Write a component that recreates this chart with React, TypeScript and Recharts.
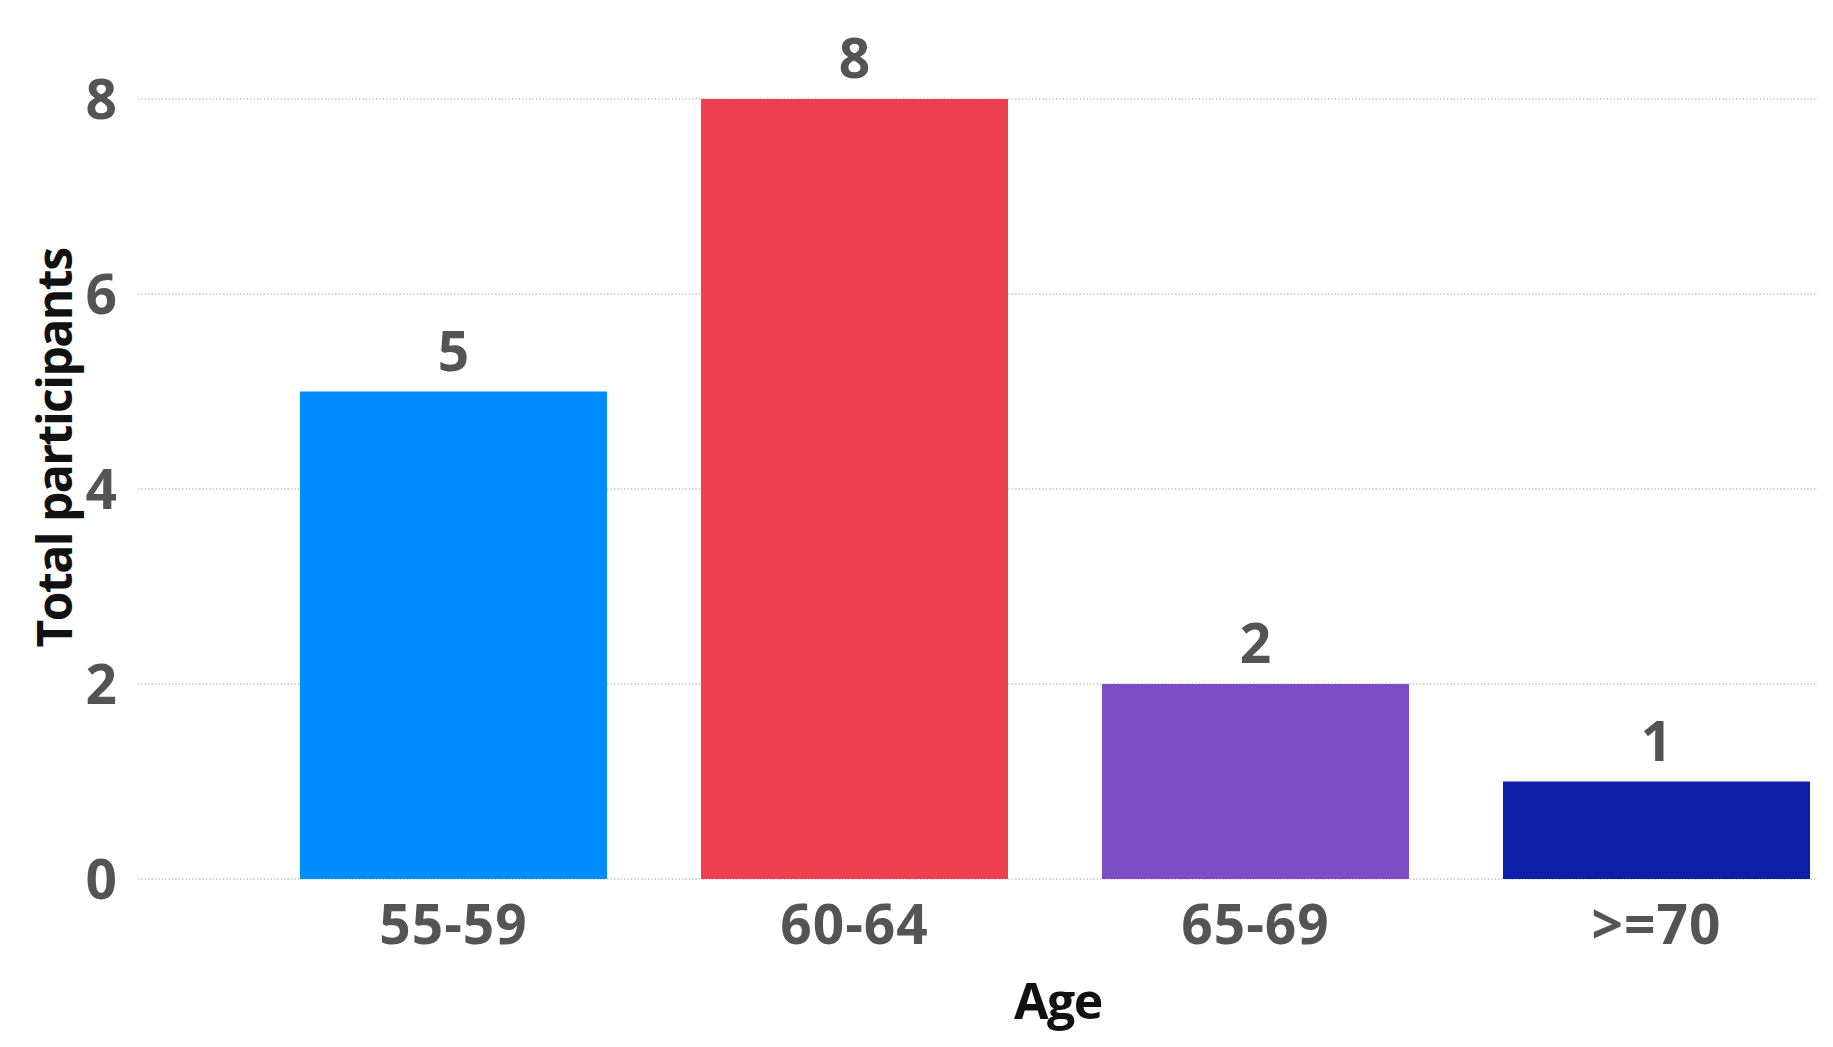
import React from 'react';
import { BarChart, Bar, XAxis, YAxis, CartesianGrid, Cell, LabelList, Label } from 'recharts';

const categories = ['55-59', '60-64', '65-69', '>=70'];
const participants = [5, 8, 2, 1];
const barColors = ['#008DFF', '#EE3F4E', '#7D4DC6', '#0D1FA8'];
const yTicks = [0, 2, 4, 6, 8];

const data = categories.map((c, i) => ({ age: c, total: participants[i] }));

const FONT = '"Open Sans", "Noto Sans", sans-serif';
const TICK_COLOR = '#545454';

const YTitle = (props: any) => {
  const vb = props.viewBox || { x: 0, y: 0, width: 0, height: 0 };
  const x = vb.x + 72;
  const y = vb.y + vb.height / 2 - 41;
  return (
    <text
      x={x}
      y={y}
      transform={`rotate(-90, ${x}, ${y})`}
      textAnchor="middle"
      fontFamily={FONT}
      fontWeight={700}
      fontSize={48}
      letterSpacing={-1.5}
      fill="#111111"
    >
      Total participants
    </text>
  );
};

const XTitle = (props: any) => {
  const vb = props.viewBox || { x: 0, y: 0, width: 0, height: 0 };
  const x = vb.x + 920;
  const y = vb.y + 140;
  return (
    <text
      x={x}
      y={y}
      textAnchor="middle"
      fontFamily={FONT}
      fontWeight={700}
      fontSize={50}
      letterSpacing={-1.5}
      fill="#111111"
    >
      Age
    </text>
  );
};

export default function App() {
  return (
    <div style={{ position: 'absolute', left: 0, top: 0, width: 1833, height: 1047, background: '#fff', overflow: 'hidden' }}>
      <BarChart
        width={1833}
        height={1047}
        data={data}
        margin={{ top: 99, right: 15, bottom: 0, left: 0 }}
      >
        <CartesianGrid vertical={false} stroke="#B8B8B8" strokeDasharray="1.2 2.2" strokeWidth={1.3} />
        <XAxis
          dataKey="age"
          height={168}
          axisLine={false}
          tickLine={false}
          tickSize={0}
          tickMargin={26}
          padding={{ left: 115, right: -39 }}
          interval={0}
          tick={{ fill: TICK_COLOR, fontFamily: FONT, fontWeight: 700, fontSize: 55, letterSpacing: 1 }}
        >
          <Label content={<XTitle />} />
        </XAxis>
        <YAxis
          width={138}
          domain={[0, 8]}
          ticks={yTicks}
          axisLine={false}
          tickLine={false}
          tickSize={0}
          tickMargin={21}
          tick={{ fill: TICK_COLOR, fontFamily: FONT, fontWeight: 700, fontSize: 55 }}
        >
          <Label content={<YTitle />} />
        </YAxis>
        <Bar dataKey="total" barSize={307} isAnimationActive={false}>
          {data.map((d, i) => (
            <Cell key={d.age} fill={barColors[i]} />
          ))}
          <LabelList
            dataKey="total"
            position="top"
            offset={21}
            fill={TICK_COLOR}
            fontFamily={FONT}
            fontWeight={700}
            fontSize={55}
          />
        </Bar>
      </BarChart>
    </div>
  );
}
